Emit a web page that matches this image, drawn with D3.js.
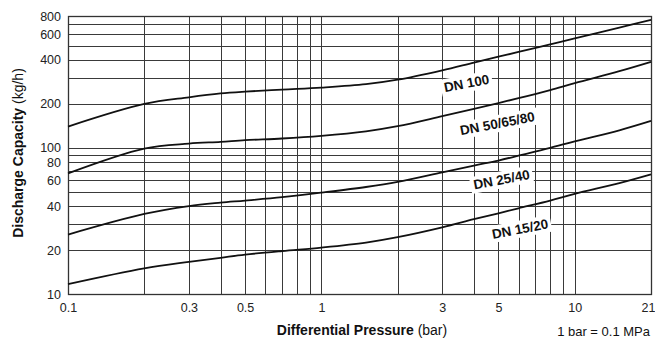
<!DOCTYPE html>
<html lang="en">
<head>
  <meta charset="UTF-8">
  <title>Discharge Capacity</title>
  <style>
    body { margin: 0; background: #fff; }
    svg { display: block; font-family: "Liberation Sans", Arial, sans-serif; }
    .domain { display: none; }
  </style>
</head>
<body>
  <svg width="655" height="338" class="svgs"></svg>
  <script src="https://cdn.jsdelivr.net/npm/d3@7/dist/d3.min.js"></script>
  <script>
    // differential pressure (bar)
    const pressure = [0.1, 0.2, 0.3, 0.4, 0.5, 0.7, 1, 1.5, 2, 3, 4, 5, 6, 8, 10, 15, 20]
    // discharge capacity (kg/h)
    const dn100 = [140, 200, 222, 236, 243, 251, 259, 273, 293, 340, 384, 421, 454, 512, 562, 667, 752]
    const dn50 = [67, 99, 107, 110, 113, 116, 121, 130, 141, 165, 185, 203, 219, 249, 278, 335, 388]
    const dn25 = [25.5, 35.3, 40, 42.2, 43.6, 46, 49.4, 54, 58.5, 68, 75.7, 82, 88.5, 100, 111, 132, 153]
    const dn15 = [11.7, 15, 16.6, 17.7, 18.6, 19.7, 20.8, 22.5, 24.5, 28.6, 32.5, 35.7, 38.6, 43.6, 48.5, 57.5, 66]

    const seriesNames = ['DN 100', 'DN 50/65/80', 'DN 25/40', 'DN 15/20']
    const seriesValues = [dn100, dn50, dn25, dn15]
    // where each curve name sits [pressure, capacity]
    const labelAt = [[3.74, 277], [4.95, 147], [5.14, 60.8], [6.08, 27.9]]

    const xTicks = [0.1, 0.3, 0.5, 1, 3, 5, 10, 20]
    const xTickLabels = ['0.1', '0.3', '0.5', '1', '3', '5', '10', '21']
    const yTicks = [10, 20, 40, 60, 80, 100, 200, 400, 600, 800]
    const xGrid = [0.1, 0.2, 0.3, 0.4, 0.5, 0.6, 0.7, 0.8, 0.9, 1, 2, 3, 4, 5, 6, 7, 8, 9, 10, 20]
    const yGrid = [10, 20, 30, 40, 50, 60, 70, 80, 90, 100, 200, 300, 400, 500, 600, 700, 800]

    const svg = d3.select('.svgs')
    const plotL = 68, plotR = 651, plotT = 16, plotB = 294

    const xScale = d3.scaleLog().domain([0.1, 20]).range([plotL, plotR])
    const yScale = d3.scaleLog().domain([10, 800]).range([plotB, plotT])
    const px = v => Math.round(v) + 0.5

    // grid
    const grid = svg.append('g').attr('stroke', '#3a3a3a').attr('stroke-width', 1)
    xGrid.forEach(v => {
      grid.append('line')
        .attr('x1', px(xScale(v))).attr('x2', px(xScale(v)))
        .attr('y1', plotT).attr('y2', plotB)
    })
    yGrid.forEach(v => {
      grid.append('line')
        .attr('x1', plotL).attr('x2', plotR)
        .attr('y1', px(yScale(v))).attr('y2', px(yScale(v)))
    })
    svg.append('rect')
      .attr('x', plotL + 0.5).attr('y', plotT + 0.5)
      .attr('width', plotR - plotL).attr('height', plotB - plotT)
      .attr('fill', 'none').attr('stroke', '#333').attr('stroke-width', 1.3)

    // axes
    const xAxis = d3.axisBottom(xScale)
      .tickValues(xTicks)
      .tickSize(0)
      .tickPadding(9)
      .tickFormat((d, i) => xTickLabels[i])
    svg.append('g').attr('class', 'x-axis').attr('transform', `translate(0, ${plotB})`).call(xAxis)

    const yAxis = d3.axisLeft(yScale)
      .tickValues(yTicks)
      .tickSize(0)
      .tickPadding(7)
      .tickFormat(d3.format('d'))
    svg.append('g').attr('transform', `translate(${plotL}, 0)`).call(yAxis)

    svg.selectAll('.tick text')
      .attr('font-size', '12.5px')
      .attr('font-family', '"Liberation Sans", Arial, sans-serif')
      .attr('fill', '#222')

    // last label sits at the frame edge, keep it inside the page
    svg.selectAll('.x-axis .tick text')
      .filter(d => d === 20)
      .attr('text-anchor', 'end')
      .attr('dx', 4)

    // curves
    const line = d3.line()
      .x(d => xScale(d[0]))
      .y(d => yScale(d[1]))
      .curve(d3.curveCatmullRom.alpha(0.5))

    seriesValues.forEach(vals => {
      svg.append('path')
        .datum(pressure.map((p, i) => [p, vals[i]]))
        .attr('d', line)
        .attr('fill', 'none')
        .attr('stroke', '#111')
        .attr('stroke-width', 1.8)
    })

    // curve labels with white backing
    seriesNames.forEach((name, i) => {
      const lg = svg.append('g')
        .attr('transform', `translate(${xScale(labelAt[i][0])}, ${yScale(labelAt[i][1])}) rotate(-11)`)
      const bg = lg.append('rect').attr('fill', '#fff')
      const t = lg.append('text')
        .text(name)
        .attr('text-anchor', 'middle')
        .attr('dy', '0.35em')
        .attr('font-size', '13.5px')
        .attr('font-weight', 'bold')
        .attr('fill', '#111')
      const bb = t.node().getBBox()
      bg.attr('x', bb.x - 3).attr('y', bb.y - 1)
        .attr('width', bb.width + 6).attr('height', bb.height + 2)
    })

    // axis titles
    const yTitle = svg.append('text')
      .attr('transform', `translate(23, 153) rotate(-90)`)
      .attr('text-anchor', 'middle')
      .attr('font-size', '14px')
      .attr('fill', '#111')
    yTitle.append('tspan').text('Discharge Capacity').attr('font-weight', 'bold')
    yTitle.append('tspan').text(' (kg/h)')

    const xTitle = svg.append('text')
      .attr('x', 362).attr('y', 335)
      .attr('text-anchor', 'middle')
      .attr('font-size', '14px')
      .attr('fill', '#111')
    xTitle.append('tspan').text('Differential Pressure').attr('font-weight', 'bold')
    xTitle.append('tspan').text(' (bar)')

    svg.append('text')
      .text('1 bar = 0.1 MPa')
      .attr('x', 650).attr('y', 336)
      .attr('text-anchor', 'end')
      .attr('font-size', '13px')
      .attr('fill', '#111')
  </script>
</body>
</html>
